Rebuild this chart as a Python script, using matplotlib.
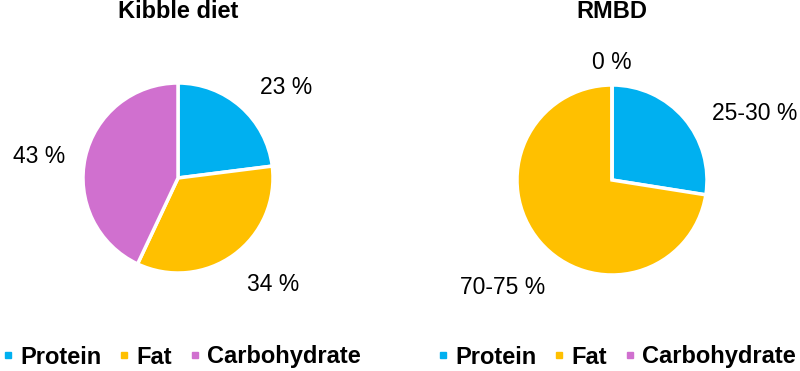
import matplotlib.pyplot as plt
from matplotlib.lines import Line2D

plt.rcParams['font.family'] = ['Liberation Sans', 'DejaVu Sans']

# --- data ---
nutrients = ['Protein', 'Fat', 'Carbohydrate']
colors = ['#00B0F0', '#FFC000', '#D070CF']

kibble_title = 'Kibble diet'
kibble_values = [23, 34, 43]
kibble_labels = ['23 %', '34 %', '43 %']

rmbd_title = 'RMBD'
rmbd_values = [27.5, 72.5, 0]
rmbd_labels = ['25-30 %', '70-75 %', '0 %']

# label placement (in pie radius units), as in the original layout
kibble_label_pos = [(1.14, 0.95), (1.0, -1.12), (-1.46, 0.23)]
rmbd_label_pos = [(1.5, 0.7), (-1.15, -1.13), (0.0, 1.24)]

fig = plt.figure(figsize=(8, 3.71), dpi=100)

W, H = 800, 371
R = 95  # pie radius in px


def draw_pie(cx, cy, values, labels, label_pos, title, legend_x):
    ax = fig.add_axes([(cx - R) / W, 1 - (cy + R) / H, 2 * R / W, 2 * R / H])
    wedges, texts = ax.pie(values, colors=colors, labels=labels, startangle=90,
                           counterclock=False,
                           wedgeprops=dict(edgecolor='white', linewidth=2.5),
                           textprops=dict(fontsize=16.5, ha='center', va='center'))
    for t, pos in zip(texts, label_pos):
        t.set_position(pos)
    ax.set_xlim(-1, 1)
    ax.set_ylim(-1, 1)
    fig.text(cx / W, 1 - 11 / H, title, ha='center', va='center',
             fontsize=17, fontweight='bold')
    handles = [Line2D([], [], marker='s', linestyle='none', markersize=4.5,
                      color=c) for c in colors]
    fig.legend(handles, nutrients, loc='center left', ncol=3,
               bbox_to_anchor=(legend_x / W, 1 - 357 / H), frameon=False,
               prop=dict(size=17, weight='bold'), handlelength=0.5,
               handletextpad=0.26, columnspacing=0.72, borderaxespad=0,
               borderpad=0)


draw_pie(178, 178, kibble_values, kibble_labels, kibble_label_pos, kibble_title, 2)
draw_pie(612, 180, rmbd_values, rmbd_labels, rmbd_label_pos, rmbd_title, 437)

fig.savefig('out.png', dpi=100)
